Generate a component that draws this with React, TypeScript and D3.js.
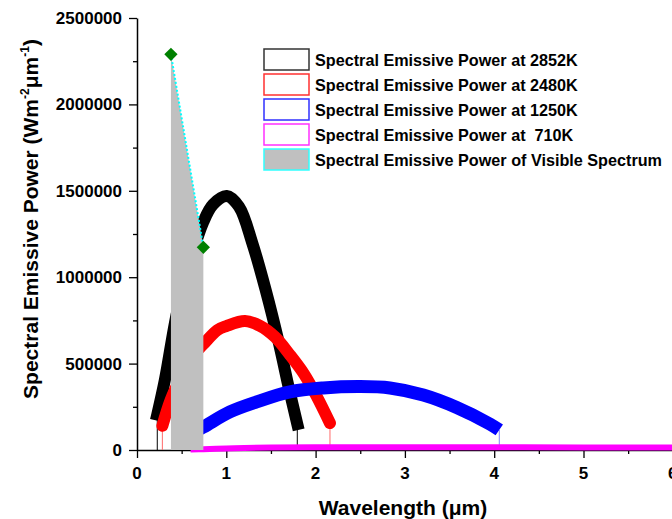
import React, { useEffect, useRef } from 'react';
import * as d3 from 'd3';

// wavelength (um) / emissive power
const wl2852 = [0.227, 0.312, 0.45, 0.6, 0.743, 0.85, 1.004, 1.142, 1.292, 1.441, 1.59, 1.7, 1.795];
const ep2852 = [205000, 405000, 800000, 1100000, 1320000, 1420000, 1470000, 1408000, 1196000, 926000, 617000, 360000, 150000];

const wl2480 = [0.284, 0.377, 0.5, 0.6, 0.743, 0.9, 1.0, 1.21, 1.377, 1.545, 1.713, 1.87, 2.016, 2.161];
const ep2480 = [140000, 290000, 430000, 530000, 612000, 694000, 717000, 746000, 718000, 654000, 550000, 440000, 307000, 156000];

const wl1250 = [0.6, 0.743, 1.04, 1.34, 1.713, 2.086, 2.497, 2.833, 3.206, 3.58, 3.953, 4.057];
const ep1250 = [95000, 133000, 220000, 278000, 336000, 359000, 367000, 359000, 318000, 246000, 150000, 116000];

const wl710 = [0.6, 0.743, 1.0, 1.2, 1.5, 2.0, 3.0, 4.0, 5.0, 6.1];
const ep710 = [3000, 5000, 9000, 12000, 14000, 16000, 16000, 16000, 15000, 14000];

const visWl = [0.38, 0.38, 0.743, 0.743];
const visEp = [0, 2290000, 1173000, 0];

const wavelengthTicks = [0, 1, 2, 3, 4, 5, 6];
const powerTicks = [0, 500000, 1000000, 1500000, 2000000, 2500000];

const legendLabels = [
  'Spectral Emissive Power at 2852K',
  'Spectral Emissive Power at 2480K',
  'Spectral Emissive Power at 1250K',
  'Spectral Emissive Power at  710K',
  'Spectral Emissive Power of Visible Spectrum',
];

const FONT = '"Liberation Sans", Arial, sans-serif';

const App = () => {
  const svgRef = useRef(null);

  useEffect(() => {
    const svg = d3.select(svgRef.current);
    svg.selectAll('*').remove();

    const x = d3.scaleLinear().domain([0, 6]).range([137, 672.8]);
    const y = d3.scaleLinear().domain([0, 2500000]).range([450, 18]);

    // axes
    const xAxis = svg.append('g').attr('transform', `translate(0,${y(0)})`);
    xAxis.call(d3.axisBottom(x).tickValues(d3.range(0, 6.01, 0.5)).tickSize(4).tickSizeOuter(0).tickFormat(() => ''));
    xAxis.call((g) => g.selectAll('.tick line').filter((d) => Number.isInteger(d)).attr('y2', 8));
    svg
      .append('g')
      .selectAll('text')
      .data(wavelengthTicks)
      .enter()
      .append('text')
      .attr('x', (d) => x(d))
      .attr('y', 479)
      .attr('text-anchor', 'middle')
      .attr('font-family', FONT)
      .attr('font-weight', 'bold')
      .attr('font-size', 17)
      .text((d) => d);

    const yAxis = svg.append('g').attr('transform', `translate(${x(0)},0)`);
    yAxis.call(d3.axisLeft(y).tickValues(d3.range(0, 2500001, 250000)).tickSize(4).tickSizeOuter(0).tickFormat(() => ''));
    yAxis.call((g) => g.selectAll('.tick line').filter((d) => d % 500000 === 0).attr('x2', -8));
    svg
      .append('g')
      .selectAll('text')
      .data(powerTicks)
      .enter()
      .append('text')
      .attr('x', 122)
      .attr('y', (d) => y(d) + 6)
      .attr('text-anchor', 'end')
      .attr('font-family', FONT)
      .attr('font-weight', 'bold')
      .attr('font-size', 17)
      .text((d) => d);

    svg.selectAll('.domain').attr('stroke', '#000').attr('stroke-width', 1.5);
    svg.selectAll('.tick line').attr('stroke', '#000').attr('stroke-width', 1.3);

    // curves
    const series = [
      { wl: wl2852, ep: ep2852, color: '#000000', drop: '#000000', width: 12, cap: 'square', drops: [0, 1] },
      { wl: wl2480, ep: ep2480, color: '#ff0000', drop: '#ff6a6a', width: 12, cap: 'round', drops: [0, 1] },
      { wl: wl1250, ep: ep1250, color: '#0000ff', drop: '#8080ff', width: 13, cap: 'butt', drops: [1] },
      { wl: wl710, ep: ep710, color: '#ff00ff', drop: '#ff80ff', width: 6, cap: 'butt', drops: [] },
    ];

    const line = d3
      .line()
      .x((d) => x(d[0]))
      .y((d) => y(d[1]))
      .curve(d3.curveCatmullRom.alpha(0.5));

    series.forEach((s) => {
      const n = s.wl.length;
      s.drops.forEach((end) => {
        const i = end === 0 ? 0 : n - 1;
        svg
          .append('line')
          .attr('x1', x(s.wl[i]))
          .attr('x2', x(s.wl[i]))
          .attr('y1', y(s.ep[i]))
          .attr('y2', y(0))
          .attr('stroke', s.drop)
          .attr('stroke-width', 1);
      });
      svg
        .append('path')
        .attr('d', line(s.wl.map((w, i) => [w, s.ep[i]])))
        .attr('fill', 'none')
        .attr('stroke', s.color)
        .attr('stroke-width', s.width)
        .attr('stroke-linecap', s.cap)
        .attr('stroke-linejoin', 'round');
    });

    // visible spectrum
    const vis = visWl.map((w, i) => [w, visEp[i]]);
    svg
      .append('path')
      .attr('d', d3.line().x((d) => x(d[0])).y((d) => y(d[1]))(vis) + 'Z')
      .attr('fill', '#c0c0c0')
      .attr('stroke', 'none');
    const top = vis.slice(1, 3);
    svg
      .append('path')
      .attr('d', d3.line().x((d) => x(d[0])).y((d) => y(d[1]))(top))
      .attr('fill', 'none')
      .attr('stroke', '#00ffff')
      .attr('stroke-width', 2)
      .attr('stroke-dasharray', '2,2');
    svg
      .selectAll('.diamond')
      .data(top)
      .enter()
      .append('path')
      .attr('class', 'diamond')
      .attr('d', d3.symbol(d3.symbolSquare, 88)())
      .attr('transform', (d) => `translate(${x(d[0])},${y(d[1])}) rotate(45)`)
      .attr('fill', '#008000');

    // legend
    const swatch = [
      { stroke: '#333333', fill: '#ffffff' },
      { stroke: '#ff3030', fill: '#ffffff' },
      { stroke: '#3030ff', fill: '#ffffff' },
      { stroke: '#ff30ff', fill: '#ffffff' },
      { stroke: '#30ffff', fill: '#c0c0c0' },
    ];
    const lg = svg.append('g').attr('transform', 'translate(264,49)');
    legendLabels.forEach((label, i) => {
      lg.append('rect')
        .attr('x', 0)
        .attr('y', i * 25)
        .attr('width', 45)
        .attr('height', 21)
        .attr('fill', swatch[i].fill)
        .attr('stroke', swatch[i].stroke)
        .attr('stroke-width', 1.5);
      lg.append('text')
        .attr('x', 51)
        .attr('y', i * 25 + 17)
        .attr('font-family', FONT)
        .attr('font-weight', 'bold')
        .attr('font-size', 16.2)
        .style('white-space', 'pre')
        .text(label);
    });

    // axis titles
    svg
      .append('text')
      .attr('x', 403)
      .attr('y', 515)
      .attr('text-anchor', 'middle')
      .attr('font-family', FONT)
      .attr('font-weight', 'bold')
      .attr('font-size', 21)
      .text('Wavelength (μm)');

    const yt = svg
      .append('text')
      .attr('transform', 'translate(38,219) rotate(-90)')
      .attr('text-anchor', 'middle')
      .attr('font-family', FONT)
      .attr('font-weight', 'bold')
      .attr('font-size', 21);
    yt.append('tspan').text('Spectral Emissive Power (Wm');
    yt.append('tspan').attr('dy', -9).attr('font-size', 12).text('-2');
    yt.append('tspan').attr('dy', 9).text('μm');
    yt.append('tspan').attr('dy', -9).attr('font-size', 12).text('-1');
    yt.append('tspan').attr('dy', 9).text(')');

    return () => {
      svg.selectAll('*').remove();
    };
  }, []);

  return (
    <svg
      ref={svgRef}
      width={672}
      height={519}
      style={{ position: 'fixed', left: 0, top: 0, background: '#fff' }}
    ></svg>
  );
};

export default App;
